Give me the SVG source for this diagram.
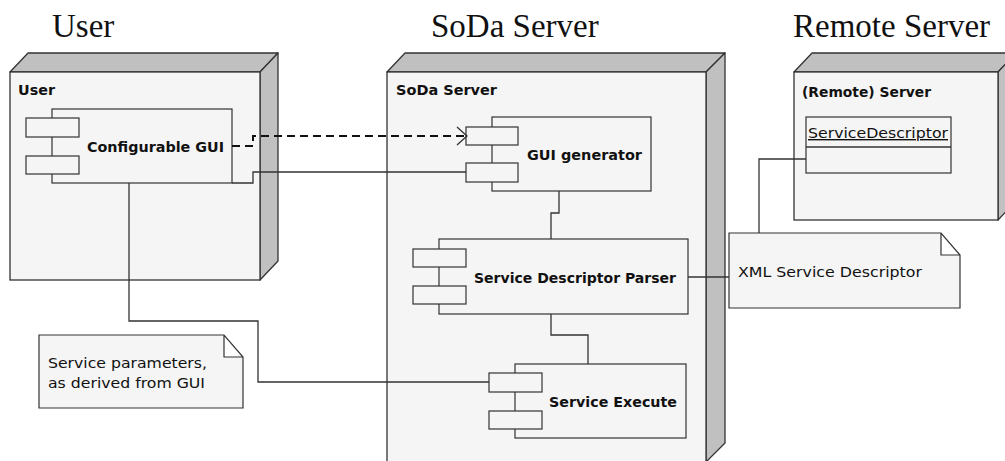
<svg xmlns="http://www.w3.org/2000/svg" width="1005" height="461" viewBox="0 0 1005 461">
<style>
.front{fill:#f5f5f5;stroke:#333;stroke-width:1.3}
.side{fill:#c0c0c0;stroke:#333;stroke-width:1.3;stroke-linejoin:round}
.comp{fill:#f5f5f5;stroke:#333;stroke-width:1.2}
.port{fill:#f5f5f5;stroke:#333;stroke-width:1.2}
.note{fill:#f5f5f5;stroke:#333;stroke-width:1.2}
.title{font-family:"Liberation Serif","Times New Roman",serif;font-size:33px;fill:#111}
.lbl{font-family:"DejaVu Sans",sans-serif;font-size:14px;font-weight:bold;fill:#111}
.txt{font-family:"DejaVu Sans",sans-serif;font-size:14px;fill:#111}
.conn{fill:none;stroke:#333;stroke-width:1.3}
.dash{fill:none;stroke:#111;stroke-width:2;stroke-dasharray:8,5}
</style>
<text class="title" x="52" y="37">User</text>
<text class="title" x="431" y="37">SoDa Server</text>
<text class="title" x="793" y="37">Remote Server</text>

<g id="node-user">
<polygon class="side" points="10,72 28,53 278,53 260,72"/>
<polygon class="side" points="260,72 278,53 278,261 260,280"/>
<rect class="front" x="10" y="72" width="250" height="208"/>
<text class="lbl" x="18" y="95" textLength="37" lengthAdjust="spacingAndGlyphs">User</text>
</g>
<g id="node-soda">
<polygon class="side" points="387,72 405,53 725,53 706,72"/>
<polygon class="side" points="706,72 725,53 725,443 706,462"/>
<rect class="front" x="387" y="72" width="319" height="390"/>
<text class="lbl" x="396" y="95" textLength="101" lengthAdjust="spacingAndGlyphs">SoDa Server</text>
</g>
<g id="node-remote">
<polygon class="side" points="794,72 812,53 1016,53 998,72"/>
<polygon class="side" points="998,72 1016,53 1016,201 998,220"/>
<rect class="front" x="794" y="72" width="204" height="148"/>
<text class="lbl" x="802" y="97" textLength="129" lengthAdjust="spacingAndGlyphs">(Remote) Server</text>
</g>

<g id="comp-configurable-gui">
<rect class="comp" x="52" y="109" width="180" height="74"/>
<rect class="port" x="26" y="118" width="53" height="19"/>
<rect class="port" x="26" y="156" width="53" height="18"/>
<text class="lbl" x="87" y="152" textLength="137" lengthAdjust="spacingAndGlyphs">Configurable GUI</text>
</g>
<g id="comp-gui-generator">
<rect class="comp" x="492" y="117" width="159" height="74"/>
<rect class="port" x="466" y="127" width="52" height="18"/>
<rect class="port" x="466" y="163" width="52" height="19"/>
<text class="lbl" x="527" y="160" textLength="115" lengthAdjust="spacingAndGlyphs">GUI generator</text>
</g>
<g id="comp-parser">
<rect class="comp" x="439" y="239" width="249" height="75"/>
<rect class="port" x="413" y="249" width="53" height="18"/>
<rect class="port" x="413" y="286" width="53" height="18"/>
<text class="lbl" x="474" y="283" textLength="202" lengthAdjust="spacingAndGlyphs">Service Descriptor Parser</text>
</g>
<g id="comp-execute">
<rect class="comp" x="515" y="364" width="171" height="74"/>
<rect class="port" x="489" y="373" width="53" height="19"/>
<rect class="port" x="489" y="411" width="53" height="18"/>
<text class="lbl" x="549" y="407" textLength="128" lengthAdjust="spacingAndGlyphs">Service Execute</text>
</g>
<g id="class-servicedescriptor">
<rect class="comp" x="806" y="117" width="145" height="56"/>
<line class="conn" x1="806" y1="147" x2="951" y2="147"/>
<text class="txt" x="808" y="138" textLength="140" lengthAdjust="spacingAndGlyphs" text-decoration="underline">ServiceDescriptor</text>
</g>
<g id="note-params">
<path class="note" d="M39,335 H224 L243,357 V408 H39 Z M224,335 V357 H243"/>
<text class="txt" x="48" y="368" textLength="159" lengthAdjust="spacingAndGlyphs">Service parameters,</text>
<text class="txt" x="48" y="388" textLength="157" lengthAdjust="spacingAndGlyphs">as derived from GUI</text>
</g>
<g id="note-xml">
<path class="note" d="M729,233 H941 L960,255 V308 H729 Z M941,233 V255 H960"/>
<text class="txt" x="738" y="277" textLength="184" lengthAdjust="spacingAndGlyphs">XML Service Descriptor</text>
</g>

<g id="connectors">
<path class="dash" d="M232,146 H253 V136 H465"/>
<path class="conn" d="M457,127 L467,136 L457,145"/>
<path class="conn" d="M232,183 H253 V172 H466"/>
<path class="conn" d="M559,191 V213 H551 V239"/>
<path class="conn" d="M551,314 V335 H588 V364"/>
<path class="conn" d="M129,183 V321 H258 V382 H489"/>
<path class="conn" d="M688,277 H729"/>
<path class="conn" d="M806,159 H759 V233"/>
</g>
</svg>
